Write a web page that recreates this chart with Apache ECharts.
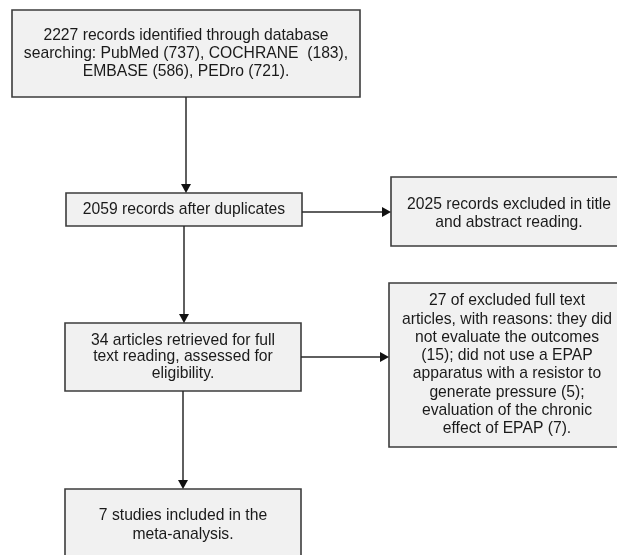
<!DOCTYPE html>
<html>
<head>
<meta charset="utf-8">
<script src="https://cdn.jsdelivr.net/npm/echarts@6/dist/echarts.min.js"></script>
<style>html,body{margin:0;padding:0;background:#fff}#c{width:617px;height:555px}</style>
</head>
<body>
<div id="c"></div>
<script>
// Flow diagram contents
const identifiedText = ["2227 records identified through database", "searching: PubMed (737), COCHRANE  (183),", "EMBASE (586), PEDro (721)."];
const afterDuplicatesText = ["2059 records after duplicates"];
const excludedTitleText = ["2025 records excluded in title", "and abstract reading."];
const retrievedText = ["34 articles retrieved for full", "text reading, assessed for", "eligibility."];
const excludedFullText = ["27 of excluded full text", "articles, with reasons: they did", "not evaluate the outcomes", "(15); did not use a EPAP", "apparatus with a resistor to", "generate pressure (5);", "evaluation of the chronic", "effect of EPAP (7)."];
const includedText = ["7 studies included in the", "meta-analysis."];

// Layout (pixels)
const boxes = [
  {t: identifiedText, x: 12, y: 10, w: 348, h: 87, lh: 18},
  {t: afterDuplicatesText, x: 66, y: 193, w: 236, h: 33, lh: 18},
  {t: excludedTitleText, x: 391, y: 177, w: 236, h: 69, lh: 18, cy: 214},
  {t: retrievedText, x: 65, y: 323, w: 236, h: 68, lh: 16.5},
  {t: excludedFullText, x: 389, y: 283, w: 236, h: 164, lh: 18.3},
  {t: includedText, x: 65, y: 489, w: 236, h: 90, lh: 19, cy: 525}
];
const arrows = [
  {x1: 186, y1: 97, x2: 186, y2: 193},
  {x1: 184, y1: 226, x2: 184, y2: 323},
  {x1: 183, y1: 391, x2: 183, y2: 489},
  {x1: 302, y1: 212, x2: 391, y2: 212},
  {x1: 301, y1: 357, x2: 389, y2: 357}
];

const FONT = '15.7px "Liberation Sans", Arial, sans-serif';
const elements = [];
boxes.forEach(b => {
  elements.push({
    type: 'rect',
    shape: {x: b.x, y: b.y, width: b.w, height: b.h},
    style: {fill: '#f1f1f1', stroke: '#3c3c3c', lineWidth: 1.6},
    z: 1
  });
  elements.push({
    type: 'text',
    x: b.x + b.w / 2,
    y: b.cy !== undefined ? b.cy : b.y + b.h / 2,
    style: {
      text: b.t.join('\n'),
      font: FONT,
      fill: '#1a1a1a',
      align: 'center',
      verticalAlign: 'middle',
      lineHeight: b.lh
    },
    z: 3
  });
});
arrows.forEach(a => {
  const vertical = a.x1 === a.x2;
  const hs = 9, hw = 5;
  let pts, lineEnd;
  if (vertical) {
    lineEnd = [a.x2, a.y2 - hs];
    pts = [[a.x2 - hw, a.y2 - hs], [a.x2 + hw, a.y2 - hs], [a.x2, a.y2]];
  } else {
    lineEnd = [a.x2 - hs, a.y2];
    pts = [[a.x2 - hs, a.y2 - hw], [a.x2 - hs, a.y2 + hw], [a.x2, a.y2]];
  }
  elements.push({
    type: 'line',
    shape: {x1: a.x1, y1: a.y1, x2: lineEnd[0], y2: lineEnd[1]},
    style: {stroke: '#2a2a2a', lineWidth: 1.5},
    z: 2
  });
  elements.push({
    type: 'polygon',
    shape: {points: pts},
    style: {fill: '#111'},
    z: 2
  });
});

const chart = echarts.init(document.getElementById('c'), null, {renderer: 'canvas'});
chart.setOption({
  backgroundColor: '#ffffff',
  animation: false,
  graphic: {elements: elements}
});
</script>
</body>
</html>
